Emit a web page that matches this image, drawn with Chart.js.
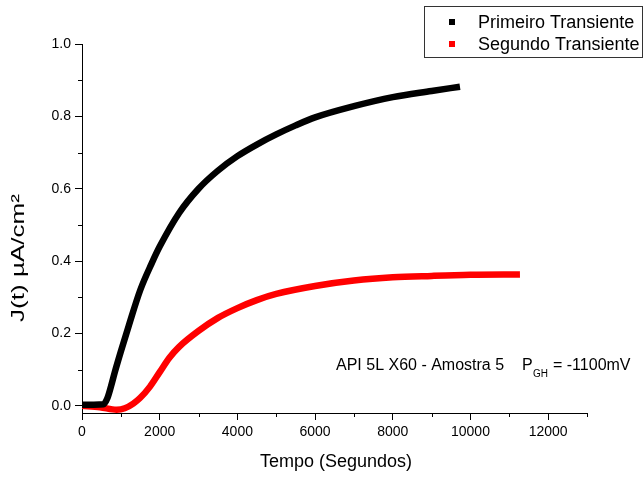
<!DOCTYPE html>
<html>
<head>
<meta charset="utf-8">
<script src="https://cdn.jsdelivr.net/npm/chart.js@4/dist/chart.umd.min.js"></script>
<style>
  html, body { margin: 0; padding: 0; background: #fff; }
  canvas { display: block; }
</style>
</head>
<body>
<canvas id="c" width="644" height="477"></canvas>
<script>
// ---- data ----
const seriesNames = ["Primeiro Transiente", "Segundo Transiente"];
const timeFirst = [0, 300, 550, 650, 750, 850, 1000, 1200, 1500, 1800, 2000, 2500, 3000, 3500, 4000, 4500, 5000, 5500, 6000, 7000, 8000, 9000, 9730];
const jFirst    = [0.003, 0.003, 0.004, 0.020, 0.055, 0.095, 0.150, 0.220, 0.320, 0.395, 0.440, 0.533, 0.600, 0.650, 0.690, 0.722, 0.750, 0.775, 0.797, 0.828, 0.853, 0.870, 0.882];
const timeSecond = [0, 463, 893, 1100, 1320, 1500, 1750, 2000, 2250, 2500, 3000, 3500, 4000, 4500, 5000, 6000, 7000, 8000, 9000, 10000, 11274];
const jSecond    = [0.0, -0.004, -0.011, -0.007, 0.006, 0.022, 0.053, 0.093, 0.133, 0.163, 0.207, 0.243, 0.270, 0.292, 0.309, 0.331, 0.346, 0.355, 0.359, 0.362, 0.363];
const xMajorTicks = [0, 2000, 4000, 6000, 8000, 10000, 12000];
const xMinorTicks = [1000, 3000, 5000, 7000, 9000, 11000, 13000];
const yMajorTicks = [0.0, 0.2, 0.4, 0.6, 0.8, 1.0];
const yMinorTicks = [0.1, 0.3, 0.5, 0.7, 0.9];
const xTitle = "Tempo (Segundos)";
const yTitle = "J(t) \u00B5A/cm\u00B2";
const noteMain = "API 5L X60 - Amostra 5";
const noteP = "P";
const noteSub = "GH";
const noteValue = "= -1100mV";

const FONT = "'Liberation Sans', Arial, Helvetica, sans-serif";
const colors = ["#000000", "#ff0000"];

function toPoints(xs, ys) { return xs.map((x, i) => ({ x: x, y: ys[i] })); }

const decorPlugin = {
  id: 'decor',
  afterDraw(chart) {
    const ctx = chart.ctx;
    const xs = chart.scales.x, ys = chart.scales.y;
    ctx.save();
    // minor ticks
    ctx.strokeStyle = '#000';
    ctx.lineWidth = 1;
    xMinorTicks.forEach(v => {
      const px = Math.round(xs.getPixelForValue(v)) + 0.5;
      ctx.beginPath(); ctx.moveTo(px, ys.bottom); ctx.lineTo(px, ys.bottom + 4); ctx.stroke();
    });
    yMinorTicks.forEach(v => {
      const py = Math.round(ys.getPixelForValue(v)) + 0.5;
      ctx.beginPath(); ctx.moveTo(xs.left, py); ctx.lineTo(xs.left - 4, py); ctx.stroke();
    });
    // axis titles
    ctx.fillStyle = '#000';
    ctx.font = "18px " + FONT;
    ctx.textAlign = 'center';
    ctx.textBaseline = 'middle';
    ctx.fillText(xTitle, 336, 462);
    ctx.save();
    ctx.translate(19, 258);
    ctx.rotate(-Math.PI / 2);
    ctx.font = "19px " + FONT;
    const w = ctx.measureText(yTitle).width;
    ctx.scale(128 / w, 1);
    ctx.fillText(yTitle, 0, 0);
    ctx.restore();
    // legend
    ctx.strokeStyle = '#333';
    ctx.lineWidth = 1;
    ctx.strokeRect(424.5, 6.5, 218, 51);
    ctx.textAlign = 'left';
    ctx.font = "18px " + FONT;
    const ly = [22, 44];
    chart.data.datasets.forEach((ds, i) => {
      ctx.fillStyle = ds.borderColor;
      ctx.fillRect(449, ly[i] - 3, 6, 6);
      ctx.fillStyle = '#000';
      ctx.fillText(ds.label, 478, ly[i] + 1);
    });
    // annotation
    ctx.font = "16px " + FONT;
    ctx.fillText(noteMain, 336, 366);
    ctx.fillText(noteP, 522, 366);
    ctx.font = "10px " + FONT;
    ctx.fillText(noteSub, 533, 374);
    ctx.font = "16px " + FONT;
    ctx.fillText(noteValue, 553, 366);
    ctx.restore();
  }
};

new Chart(document.getElementById('c'), {
  type: 'line',
  data: {
    datasets: [
      { label: seriesNames[0], data: toPoints(timeFirst, jFirst), borderColor: colors[0], backgroundColor: colors[0],
        borderWidth: 6.5, pointRadius: 0, cubicInterpolationMode: 'monotone', fill: false },
      { label: seriesNames[1], data: toPoints(timeSecond, jSecond), borderColor: colors[1], backgroundColor: colors[1],
        borderWidth: 6.5, pointRadius: 0, cubicInterpolationMode: 'monotone', fill: false }
    ]
  },
  options: {
    responsive: false,
    animation: false,
    devicePixelRatio: 1,
    layout: { padding: { top: 44, right: 57, left: 0, bottom: 0 } },
    plugins: { legend: { display: false }, tooltip: { enabled: false } },
    scales: {
      x: {
        type: 'linear', min: 0, max: 13000,
        afterBuildTicks: s => { s.ticks = xMajorTicks.map(v => ({ value: v })); },
        afterFit: s => { s.height = 64; },
        ticks: { color: '#000', font: { family: FONT, size: 14 }, padding: 4, maxRotation: 0, autoSkip: false,
                 callback: v => String(v) },
        grid: { drawOnChartArea: false, drawTicks: true, tickLength: 7, tickColor: '#000' },
        border: { display: true, color: '#000', width: 1 }
      },
      y: {
        type: 'linear', min: -0.02, max: 1.0,
        afterBuildTicks: s => { s.ticks = yMajorTicks.map(v => ({ value: v })); },
        afterFit: s => { s.width = 82; },
        ticks: { color: '#000', font: { family: FONT, size: 14 }, padding: 4, autoSkip: false,
                 callback: v => Number(v).toFixed(1) },
        grid: { drawOnChartArea: false, drawTicks: true, tickLength: 7, tickColor: '#000' },
        border: { display: true, color: '#000', width: 1 }
      }
    }
  },
  plugins: [decorPlugin]
});
</script>
</body>
</html>
